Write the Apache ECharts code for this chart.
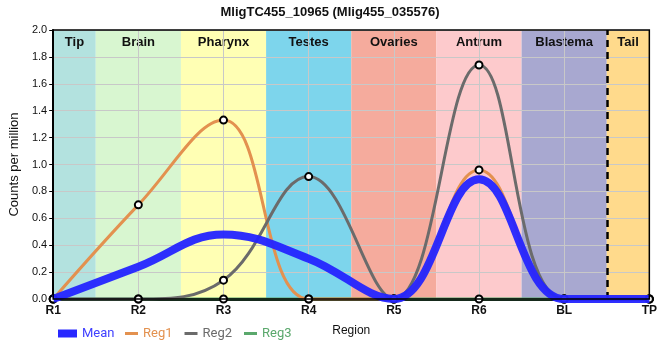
<!DOCTYPE html>
<html><head><meta charset="utf-8">
<script src="https://cdn.jsdelivr.net/npm/echarts@6/dist/echarts.min.js"></script>
<style>html,body{margin:0;padding:0;background:#fff}#c{width:660px;height:360px}</style>
</head><body><div id="c"></div>
<script>
const categories = ['R1','R2','R3','R4','R5','R6','BL','TP'];
const meanVals = [0, 0.24, 0.48, 0.30, 0.0, 0.89, 0.0, 0.0];
const reg1Vals = [0, 0.70, 1.33, 0.0, 0.0, 0.96, 0.0, 0.0];
const reg2Vals = [0, 0.0, 0.14, 0.91, 0.0, 1.74, 0.0, 0.0];
const reg3Vals = [0, 0, 0, 0, 0, 0, 0, 0];
const bandNames = ['Tip','Brain','Pharynx','Testes','Ovaries','Antrum','Blastema','Tail'];
const bandStart = [0, 0.5, 1.5, 2.5, 3.5, 4.5, 5.5, 6.5];
const bandEnd   = [0.5, 1.5, 2.5, 3.5, 4.5, 5.5, 6.5, 7];
const bandColors = ['#b3e2df','#d8f6d0','#ffffb4','#7dd5ec','#f5ab9d','#fdcacc','#a8a8d0','#ffda8c'];
const dividerPos = 6.5;

const toXY = arr => arr.map((v,i)=>[i,v]);
const chart = echarts.init(document.getElementById('c'));
const font = 'Liberation Sans, Arial, sans-serif';
const mk = (name, vals, color, width, z) => ({
  name, type:'line', data: toXY(vals), smooth: 0.4,
  symbol:'emptyCircle', symbolSize: 7, showSymbol: true, z,
  lineStyle:{color, width}, itemStyle:{color:'#000', borderColor:'#000', borderWidth:1},
  emphasis:{disabled:true}
});
const series = [
  {name:'bands', type:'line', data:[], z:0, silent:true,
   markArea:{silent:true, data: bandNames.map((n,i)=>[
     {xAxis:bandStart[i], yAxis:0, name:n, itemStyle:{color:bandColors[i], opacity:1},
      label:{show:true, position:'insideTop', distance:6, color:'#111', fontWeight:'bold', fontSize:13, fontFamily:font}},
     {xAxis:bandEnd[i], yAxis:2}]) }},
  mk('Reg3', reg3Vals, '#5aa86c', 3, 3),
  mk('Reg1', reg1Vals, '#e3914f', 3, 4),
  mk('Reg2', reg2Vals, '#6b6b6b', 3, 5),
  {name:'Mean', type:'line', data: toXY(meanVals), smooth:0.4,
   showSymbol:false, symbol:'none', z:6, lineStyle:{color:'#2424ff', width:8, opacity:0.95},
   emphasis:{disabled:true},
   markLine:{silent:true, symbol:'none', label:{show:false},
     lineStyle:{color:'#000', width:2.5, type:[7,5]}, data:[{xAxis:dividerPos}]}}
];
const legItem = (name, c, tc) => ({name, icon:'rect', itemStyle:{color:c, borderWidth:0, borderColor:c}, textStyle:{color:tc||c}});
chart.setOption({
  animation:false,
  title:{text:'MligTC455_10965 (Mlig455_035576)', left:'center', top:1,
    textStyle:{fontFamily:font, fontWeight:'bold', fontSize:13, color:'#111'}},
  grid:{left:50, right:8, top:30, bottom:61, show:true, borderColor:'#000', borderWidth:1.5, backgroundColor:'transparent', z:8},
  legend:[
    {data:[legItem('Mean','#2828ff','#4040ff')], left:53, top:322,
     itemWidth:19, itemHeight:8, itemGap:8, textStyle:{fontSize:13, fontFamily:'Roboto, sans-serif'}},
    {data:[legItem('Reg1','#e3914f'), legItem('Reg2','#6b6b6b'), legItem('Reg3','#5aa86c')],
     left:120, top:322, itemWidth:13, itemHeight:3, itemGap:12,
     textStyle:{fontSize:13, fontFamily:'Roboto, sans-serif'}}
  ],
  xAxis:{type:'value', min:0, max:7, interval:1, name:'Region', nameLocation:'middle', nameGap:26, z:2,
    nameTextStyle:{color:'#111', fontSize:12, fontFamily:font},
    axisLine:{show:true, onZero:false, lineStyle:{color:'#000', width:3}},
    axisTick:{show:true, length:4, lineStyle:{color:'#000'}},
    axisLabel:{formatter:v=>categories[v]||'', color:'#111', fontWeight:'bold', fontSize:12, fontFamily:font, margin:6},
    splitLine:{show:true, lineStyle:{color:'#c8c8c8', width:1}}},
  yAxis:{type:'value', min:0, max:2, interval:0.2, name:'Counts per million', nameLocation:'middle', nameGap:28, z:2,
    nameTextStyle:{color:'#111', fontSize:13, fontFamily:font},
    axisLine:{show:true, lineStyle:{color:'#000', width:2}},
    axisTick:{show:true, length:4, lineStyle:{color:'#000'}},
    axisLabel:{formatter:v=>v.toFixed(1), color:'#111', fontSize:11, fontFamily:font, margin:6},
    splitLine:{show:true, lineStyle:{color:'#c8c8c8', width:1}}},
  series
});
</script></body></html>
